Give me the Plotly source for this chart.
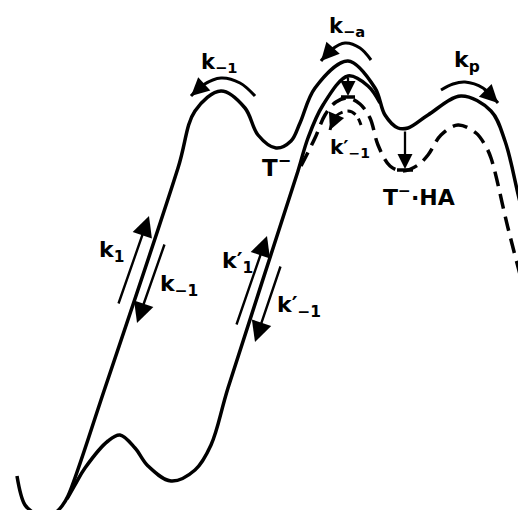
import plotly.graph_objects as go

# ---- curve readings (picture coordinates, y downward) ----
outer_x = [9, 17, 28, 37, 47, 54, 60, 97, 170, 187, 213, 237, 250, 268, 283, 292, 307, 340, 367, 377, 390, 400, 420, 453, 483, 497, 511, 526]
outer_y = [468, 497, 506, 508, 505, 498, 488, 380, 160, 103, 83, 100, 127, 140, 133, 115, 80, 53, 80, 107, 120, 120, 107, 88, 103, 133, 190, 250]

inner_x = [59, 68, 77, 100, 112, 127, 140, 163, 187, 203, 220, 290, 300, 315, 340, 360, 372]
inner_y = [491, 475, 460, 433, 427, 440, 458, 473, 462, 437, 380, 163, 130, 97, 68, 78, 95]

dash_x = [293, 307, 317, 328, 340, 352, 362, 370, 382, 395, 410, 420, 433, 450, 468, 477, 483, 500, 520]
dash_y = [158, 130, 107, 94, 90, 96, 110, 137, 158, 163, 157, 147, 127, 117, 125, 137, 150, 220, 297]

# curved rate arrows: arc points, the arrow tip is the first or last point
arc_km1_x = [183, 195, 213, 232, 247]
arc_km1_y = [88, 77, 70, 75, 88]
arc_ka_x = [313, 323, 337, 352, 363]
arc_ka_y = [53, 42, 35, 40, 52]
arc_kp_x = [433, 445, 457, 475, 490]
arc_kp_y = [82, 76, 74, 80, 95]
arc_kpm1_x = [322, 328, 340, 348, 353]
arc_kpm1_y = [122, 108, 103, 107, 117]

# straight rate arrows: (tail x, tail y, tip x, tip y)
arrows_straight = [
    (110, 297, 141, 208),
    (157, 235, 129, 315),
    (228, 318, 259, 228),
    (273, 257, 247, 334),
]
# vertical drop arrows (x, top y, tip y, bar half width)
drops = [(340, 68, 88, 7), (397, 122, 161, 8)]

labels_text = ["k<sub>1</sub>", "k<sub>−1</sub>", "k′<sub>1</sub>", "k′<sub>−1</sub>",
               "k<sub>−1</sub>", "k<sub>−a</sub>", "k<sub>p</sub>", "T<sup>−</sup>",
               "k′<sub>−1</sub>", "T<sup>−</sup>·HA"]
labels_x = [103, 171, 229, 291, 211, 339, 459, 268, 342, 411]
labels_y = [243, 277, 254, 298, 55, 19, 53, 158, 140, 188]
labels_size = [22, 22, 22, 22, 21, 21, 22, 23, 20, 22]

BLACK = "#000000"
fig = go.Figure()

def add_line(xs, ys, width=3.5, dash=None):
    fig.add_trace(go.Scatter(x=xs, y=ys, mode="lines",
                             line=dict(color=BLACK, width=width, shape="spline", smoothing=1.0,
                                       dash=dash),
                             hoverinfo="skip"))

add_line(outer_x, outer_y)
add_line(inner_x, inner_y)
add_line(dash_x, dash_y, dash="15px,8px")
add_line(arc_km1_x, arc_km1_y, width=3)
add_line(arc_ka_x, arc_ka_y, width=3)
add_line(arc_kp_x, arc_kp_y, width=3)
add_line(arc_kpm1_x, arc_kpm1_y, width=3, dash="9px,5px")

annotations = []

def arrow(tx, ty, hx, hy, width=2.2, size=1.3):
    annotations.append(dict(x=hx, y=hy, ax=tx, ay=ty, xref="x", yref="y", axref="x", ayref="y",
                            text="", showarrow=True, arrowhead=2, arrowsize=size,
                            arrowwidth=width, arrowcolor=BLACK))

# arc arrow heads
arrow(arc_km1_x[1], arc_km1_y[1], arc_km1_x[0], arc_km1_y[0], 3, 1.2)
arrow(arc_ka_x[1], arc_ka_y[1], arc_ka_x[0], arc_ka_y[0], 3, 1.2)
arrow(arc_kp_x[-2], arc_kp_y[-2], arc_kp_x[-1], arc_kp_y[-1], 3, 1.2)
arrow(arc_kpm1_x[1], arc_kpm1_y[1], arc_kpm1_x[0], arc_kpm1_y[0], 3, 1.1)

for tx, ty, hx, hy in arrows_straight:
    arrow(tx, ty, hx, hy, 2.4, 1.7)

for x, top, tip, hw in drops:
    arrow(x, top, x, tip, 2.3, 1.3)
    fig.add_trace(go.Scatter(x=[x - hw, x + hw], y=[tip + 1, tip + 1], mode="lines",
                             line=dict(color=BLACK, width=3.5), hoverinfo="skip"))

for t, x, y, s in zip(labels_text, labels_x, labels_y, labels_size):
    annotations.append(dict(x=x, y=y, xref="x", yref="y", text="<b>" + t + "</b>",
                            showarrow=False, xanchor="center", yanchor="middle",
                            font=dict(family="DejaVu Sans", size=s, color=BLACK)))

fig.update_layout(
    width=526, height=510,
    margin=dict(l=0, r=0, t=0, b=0),
    paper_bgcolor="white", plot_bgcolor="white",
    showlegend=False,
    xaxis=dict(range=[0, 526], visible=False, fixedrange=True),
    yaxis=dict(range=[510, 0], visible=False, fixedrange=True),
    annotations=annotations,
)

fig.write_html("out.html")
